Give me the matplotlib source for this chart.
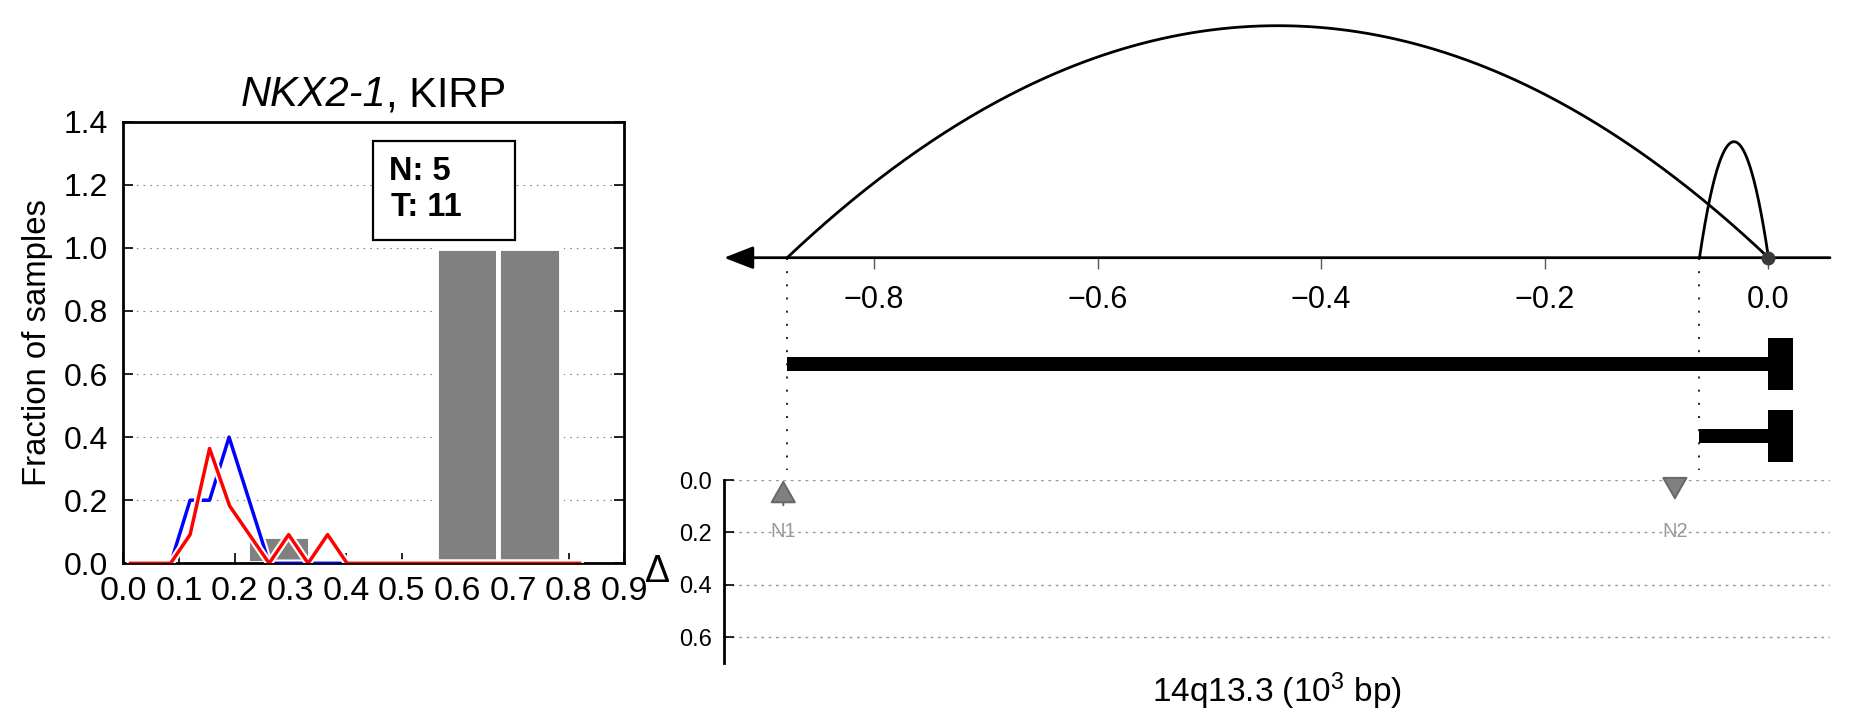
import numpy as np
import matplotlib
matplotlib.use('Agg')
import matplotlib.pyplot as plt
import matplotlib.patheffects as pe
from matplotlib.patches import Rectangle
from matplotlib.ticker import FormatStrFormatter, FuncFormatter

plt.rcParams['font.family'] = ['Liberation Sans', 'DejaVu Sans']
plt.rcParams['mathtext.fontset'] = 'custom'
plt.rcParams['mathtext.rm'] = 'Liberation Sans'
plt.rcParams['mathtext.it'] = 'Liberation Sans:italic'
plt.rcParams['mathtext.bf'] = 'Liberation Sans:bold'

# left panel: allele fraction distributions
normal_x = [0.013, 0.085, 0.120, 0.155, 0.190, 0.262, 0.820]
normal_y = [0.0, 0.0, 0.2, 0.2, 0.4, 0.0, 0.0]
tumor_x = [0.013, 0.085, 0.120, 0.155, 0.191, 0.262, 0.297, 0.332, 0.367, 0.402, 0.820]
tumor_y = [0.0, 0.0, 0.091, 0.364, 0.182, 0.0, 0.091, 0.0, 0.091, 0.0, 0.0]
bin_edges = [0.222, 0.335, 0.448, 0.561, 0.674, 0.787]
bin_heights = [0.085, 0.0, 0.0, 1.0, 1.0]
n_normal = 5
n_tumor = 11
gene = 'NKX2-1'
cohort = 'KIRP'

# right panel: breakpoints (10^3 bp)
arc_start = [-0.8775, -0.0617]
arc_end = [0.0, 0.0]
arc_heights = [1.0, 0.5]
pos_ticks = [-0.8, -0.6, -0.4, -0.2, 0.0]
marker_labels = ['N1', 'N2']
marker_pos = [-0.881, -0.0837]
marker_delta = [0.096, 0.077]
marker_up = [True, False]
delta_ticks = [0.0, 0.2, 0.4, 0.6]

W, H = 1851, 718
fig = plt.figure(figsize=(W / 100, H / 100), dpi=100)


def px_axes(x0, y0, x1, y1):
    return fig.add_axes([x0 / W, 1 - y1 / H, (x1 - x0) / W, (y1 - y0) / H])


minus_fmt = FuncFormatter(lambda v, p: f'{v:.1f}'.replace('-', '\u2212'))

# ---------------- left panel ----------------
ax = px_axes(123.3, 121.7, 624.3, 563.3)
ax.bar(bin_edges[:-1], bin_heights, width=np.diff(bin_edges), align='edge',
       color='#808080', edgecolor='white', linewidth=3.5, zorder=2)
stroke = [pe.Stroke(linewidth=5.5, foreground='white'), pe.Normal()]
ax.plot(normal_x, normal_y, color='blue', lw=2.5, zorder=3, path_effects=stroke)
ax.plot(tumor_x, tumor_y, color='red', lw=2.5, zorder=3, path_effects=stroke)
ax.set_xlim(0, 0.9)
ax.set_ylim(0, 1.4)
ax.set_xticks(np.arange(0, 0.95, 0.1))
ax.set_yticks(np.arange(0, 1.45, 0.2))
ax.xaxis.set_major_formatter(FormatStrFormatter('%.1f'))
ax.yaxis.set_major_formatter(FormatStrFormatter('%.1f'))
ax.tick_params(direction='in', length=7, width=1.2, top=False, right=True)
ax.tick_params(axis='x', pad=9, labelsize=24.5)
ax.tick_params(axis='y', pad=11, labelsize=23)
ax.yaxis.grid(True, linestyle=(0, (1.5, 4.5)), color='#888888', lw=0.8)
ax.set_axisbelow(True)
for sp in ax.spines.values():
    sp.set_linewidth(2)
ax.set_ylabel('Fraction of samples', fontsize=23.7)
ax.yaxis.set_label_coords(-0.141, 0.5)

box = Rectangle((0.4486, 1.026), 0.2547, 0.312, facecolor='white', edgecolor='black',
                lw=1.6, zorder=4)
ax.add_patch(box)
ax.text(0.478, 1.216, f'N: {n_normal}', fontsize=23.5, fontweight='bold', va='baseline', zorder=5)
ax.text(0.481, 1.100, f'T: {n_tumor}', fontsize=23.5, fontweight='bold', va='baseline', zorder=5)

# title: italic gene name + cohort, centred over the axes
r = fig.canvas.get_renderer()
t1 = fig.text(0, 1 - 106.4 / H, gene, style='italic', fontsize=30, va='baseline')
t2 = fig.text(0, 1 - 106.4 / H, f', {cohort}', fontsize=30, va='baseline')
w1 = t1.get_window_extent(r).width
w2 = t2.get_window_extent(r).width
cx = (123.3 + 624.3) / 2
t1.set_x((cx - (w1 + w2) / 2) / W)
t2.set_x((cx - (w1 + w2) / 2 + w1) / W)

# ---------------- right top panel ----------------
xlo, xhi = -0.934, 0.055
axt = px_axes(724, 0, 1830, 475)
axt.set_xlim(xlo, xhi)
axt.set_ylim(-217.3, 257.7)
axt.spines['bottom'].set_position(('data', 0))
for sp in axt.spines.values():
    sp.set_visible(False)
axt.set_yticks([])
axt.set_xticks(pos_ticks)
axt.xaxis.set_major_formatter(minus_fmt)
axt.tick_params(axis='x', direction='out', length=8, width=1, color='0.35', labelsize=22, pad=12)
axt.annotate('', xy=(xlo, 0), xytext=(xhi, 0), annotation_clip=False,
             arrowprops=dict(arrowstyle='-|>,head_length=1.8,head_width=0.7', mutation_scale=10,
                             lw=2, color='black', shrinkA=0, shrinkB=0))

t = np.linspace(0, 1, 300)
for i, (s, e, h) in enumerate(zip(arc_start, arc_end, arc_heights)):
    axt.plot(s + (e - s) * t, 4 * t * (1 - t) * h * 232, color='black', lw=2.0, zorder=3)
    axt.plot([s, s], [0, -212], color='black', lw=1.2, linestyle=(0, (1.2, 6.7)), zorder=1)
    row = -106 - 72 * i
    axt.add_patch(Rectangle((s, row - 7), e - s, 14, facecolor='black', edgecolor='none', zorder=3))
    axt.add_patch(Rectangle((e, row - 26), 0.0218, 52, facecolor='black', edgecolor='none', zorder=3))
axt.plot(arc_end[0], 0, 'o', ms=9, color='#3a3a3a', zorder=5)

# ---------------- right bottom panel ----------------
axb = px_axes(724, 480, 1830, 663.3)
axb.set_xlim(xlo, xhi)
axb.set_ylim(0.7, 0)
for name in ['top', 'right', 'bottom']:
    axb.spines[name].set_visible(False)
axb.spines['left'].set_linewidth(2)
axb.set_xticks([])
axb.set_yticks(delta_ticks)
axb.yaxis.set_major_formatter(FormatStrFormatter('%.1f'))
axb.tick_params(axis='y', direction='in', length=7, width=1.2, labelsize=17, pad=9)
axb.yaxis.grid(True, linestyle=(0, (2, 3.3)), color='#999999', lw=1)
axb.set_axisbelow(True)
axb.set_ylabel('\u0394', rotation=0, fontsize=27, va='center', ha='right')
axb.yaxis.set_label_coords(-0.049, 0.5)
axb.set_xlabel('14q13.3 (10$^3$ bp)', fontsize=24, labelpad=5)

for lab, x, d, up in zip(marker_labels, marker_pos, marker_delta, marker_up):
    tip, tail = (0, d) if up else (d, 0)
    axb.annotate('', xy=(x, tip), xytext=(x, tail), annotation_clip=False,
                 arrowprops=dict(arrowstyle='-|>,head_length=1.45,head_width=0.83',
                                 mutation_scale=10, lw=1.5, fc='#808080', ec='#6a6a6a',
                                 shrinkA=0, shrinkB=0))
    axb.text(x, 0.195, lab, ha='center', va='center', color='#9a9a9a', fontsize=14.5)

fig.savefig('out.png', dpi=100)
